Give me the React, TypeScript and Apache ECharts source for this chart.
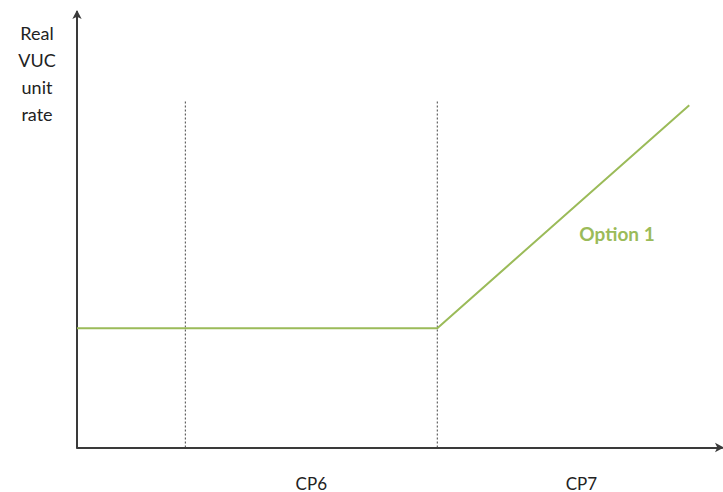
import React, { useEffect, useRef } from "react";
import * as echarts from "echarts";

const periodNames = ["CP6", "CP7"];
const periodBounds = [2.15, 7.15, 12.87];
const optionX = [0, 7.15, 12.15];
const optionY = [27.4, 27.4, 78.6];
const dividerTop = 79.5;
const seriesName = "Option 1";
const yAxisLabel = ["Real", "VUC", "unit", "rate"];

export default function App() {
  const ref = useRef<HTMLDivElement>(null);
  useEffect(() => {
    if (!ref.current) return;
    const chart = echarts.init(ref.current, null, { renderer: "svg" });
    const mids = periodNames.map((_, i) => (periodBounds[i] + periodBounds[i + 1]) / 2);
    const dividers = periodBounds.slice(0, 2).map((x) => ({
      type: "line",
      data: [
        [x, 0],
        [x, dividerTop],
      ],
      symbol: "none",
      silent: true,
      lineStyle: { color: "#444", width: 1, type: [2, 2] },
    }));
    chart.setOption({
      animation: false,
      grid: { left: 77, right: 1, top: 12, bottom: 44.5 },
      xAxis: {
        type: "value",
        min: 0,
        max: 12.8,
        splitLine: { show: false },
        axisTick: { show: false },
        axisLine: {
          lineStyle: { color: "#3a3a3a", width: 2 },
          symbol: ["none", "arrow"],
          symbolSize: [7, 9],
          symbolOffset: [0, 2],
        },
        axisLabel: {
          customValues: mids,
          formatter: (v: number) => {
            const i = mids.findIndex((m) => Math.abs(m - v) < 1e-6);
            return i >= 0 ? periodNames[i] : "";
          },
          margin: 27,
          fontFamily: "Lato",
          fontSize: 17,
          color: "#222",
        },
      },
      yAxis: {
        type: "value",
        min: 0,
        max: 100,
        splitLine: { show: false },
        axisTick: { show: false },
        axisLabel: { show: false },
        axisLine: {
          lineStyle: { color: "#3a3a3a", width: 2 },
          symbol: ["none", "arrow"],
          symbolSize: [7, 9],
          symbolOffset: [0, 2],
        },
      },
      series: [
        ...dividers,
        {
          name: seriesName,
          type: "line",
          data: optionX.map((x, i) => [x, optionY[i]]),
          symbol: "none",
          lineStyle: { color: "#9bbb59", width: 2 },
          z: 3,
        },
      ],
      graphic: [
        {
          type: "text",
          x: 37,
          y: 19,
          style: {
            text: yAxisLabel.join("\n"),
            fontFamily: "Lato",
            fontSize: 18,
            lineHeight: 27,
            fill: "#222",
            align: "center",
            verticalAlign: "top",
          },
        },
        {
          type: "text",
          x: 617,
          y: 233,
          style: {
            text: seriesName,
            fontFamily: "Lato",
            fontSize: 19,
            fontWeight: "bold",
            fill: "#9bbb59",
            align: "center",
            verticalAlign: "middle",
          },
        },
      ],
    });
    return () => chart.dispose();
  }, []);
  return <div ref={ref} style={{ width: 723, height: 492, position: "absolute", left: 0, top: 0 }} />;
}
